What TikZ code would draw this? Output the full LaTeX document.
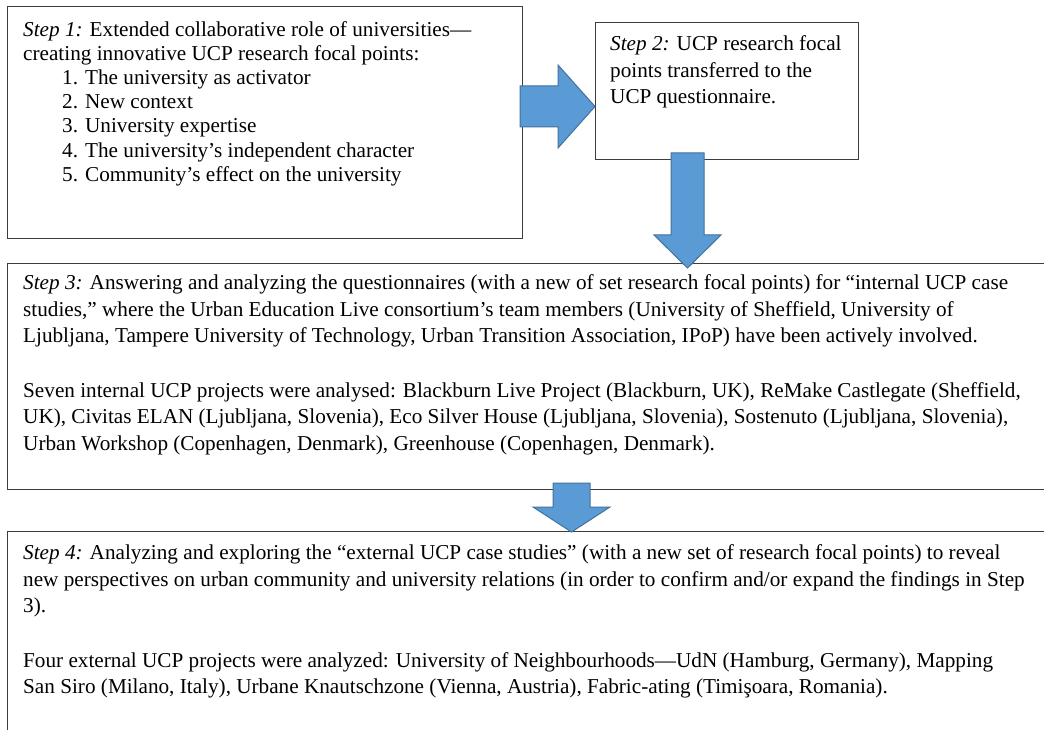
\documentclass[tikz,border=0pt]{standalone}
\usepackage{fontspec}
\setmainfont{Liberation Serif}
\definecolor{arrowfill}{RGB}{91,155,213}
\definecolor{arrowline}{RGB}{65,113,156}
\definecolor{boxline}{RGB}{60,60,60}
\tikzset{
  stepframe/.style={draw=boxline, line width=1pt},
  blockarrow/.style={fill=arrowfill, draw=arrowline, line width=1pt, line join=miter},
  steptext/.style={anchor=north west, inner sep=0pt, align=left, font=\fontsize{21.2}{26.3}\selectfont},
}
\newcommand{\topstrut}{\rule{0pt}{16pt}}
\begin{document}
\begin{tikzpicture}[x=1pt,y=-1pt]
\useasboundingbox (0,0) rectangle (1044,730);
\clip (0,0) rectangle (1044,730);
% boxes
\draw[stepframe] (7,7) rectangle (522,239);
\draw[stepframe] (595,23) rectangle (858,160);
\draw[stepframe] (7,263) rectangle (1060,489);
\draw[stepframe] (7,531) rectangle (1060,760);
% texts
\node[steptext, font=\fontsize{21.2}{24.2}\selectfont] (t1) at (23,20) {\topstrut\textit{Step 1:} Extended collaborative role of universities—\\
creating innovative UCP research focal points:\\
\hspace*{39pt}1. The university as activator\\
\hspace*{39pt}2. New context\\
\hspace*{39pt}3. University expertise\\
\hspace*{39pt}4. The university’s independent character\\
\hspace*{39pt}5. Community’s effect on the university};
\node[steptext] (t2) at (610,34.7) {\topstrut\textit{Step 2:} UCP research focal\\
points transferred to the\\
UCP questionnaire.};
\node[steptext] (t3) at (23,273.5) {\topstrut\textit{Step 3:} Answering and analyzing the questionnaires (with a new of set research focal points) for “internal UCP case\\
studies,” where the Urban Education Live consortium’s team members (University of Sheffield, University of\\
Ljubljana, Tampere University of Technology, Urban Transition Association, IPoP) have been actively involved.\\[29pt]
Seven internal UCP projects were analysed: Blackburn Live Project (Blackburn, UK), ReMake Castlegate (Sheffield,\\
UK), Civitas ELAN (Ljubljana, Slovenia), Eco Silver House (Ljubljana, Slovenia), Sostenuto (Ljubljana, Slovenia),\\
Urban Workshop (Copenhagen, Denmark), Greenhouse (Copenhagen, Denmark).};
\node[steptext] (t4) at (23,543.5) {\topstrut\textit{Step 4:} Analyzing and exploring the “external UCP case studies” (with a new set of research focal points) to reveal\\
new perspectives on urban community and university relations (in order to confirm and/or expand the findings in Step\\
3).\\[29pt]
Four external UCP projects were analyzed: University of Neighbourhoods—UdN (Hamburg, Germany), Mapping\\
San Siro (Milano, Italy), Urbane Knautschzone (Vienna, Austria), Fabric-ating (Timişoara, Romania).};
% block arrows
\draw[blockarrow] (520,86) -- (558,86) -- (558,65) -- (595,106.5) -- (558,148) -- (558,127) -- (520,127) -- cycle;
\draw[blockarrow] (671,153) -- (704,153) -- (704,235) -- (721,235) -- (687.5,268) -- (654,235) -- (671,235) -- cycle;
\draw[blockarrow] (553,483) -- (590,483) -- (590,507) -- (610,507) -- (571.5,532) -- (533,507) -- (553,507) -- cycle;
\end{tikzpicture}
\end{document}
